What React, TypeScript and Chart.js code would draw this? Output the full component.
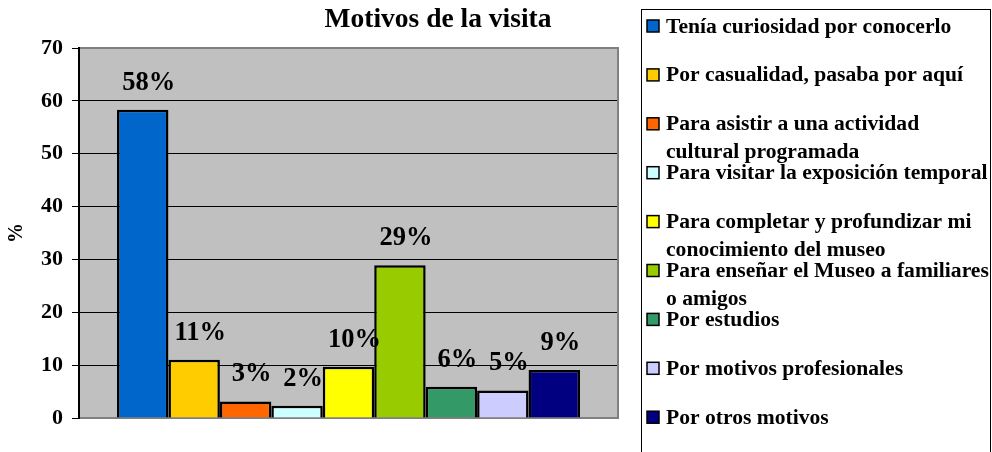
import React, { useEffect, useRef } from "react";
import { Chart, registerables } from "chart.js";

Chart.register(...registerables);

const chartTitle = "Motivos de la visita";
const yAxisTitle = "%";
const categories = [""];
const seriesNames = [
  "Tenía curiosidad por conocerlo",
  "Por casualidad, pasaba por aquí",
  "Para asistir a una actividad\ncultural programada",
  "Para visitar la exposición temporal",
  "Para completar y profundizar mi\nconocimiento del museo",
  "Para enseñar el Museo a familiares\no amigos",
  "Por estudios",
  "Por motivos profesionales",
  "Por otros motivos",
];
const seriesValues = [58.3, 11, 3.1, 2.3, 9.7, 28.9, 5.9, 5.2, 9.1];
const seriesLabels = ["58%", "11%", "3%", "2%", "10%", "29%", "6%", "5%", "9%"];
const seriesColors = [
  "#0066CC",
  "#FFCC00",
  "#FF6600",
  "#CCFFFF",
  "#FFFF00",
  "#99CC00",
  "#339966",
  "#CCCCFF",
  "#000080",
];
const yMin = 0;
const yMax = 70;
const yStep = 10;

const FONT = "'Liberation Serif', 'Times New Roman', serif";

const decorPlugin = {
  id: "decor",
  beforeDraw(chart: any) {
    const { ctx, chartArea: a } = chart;
    ctx.save();
    ctx.fillStyle = "#ffffff";
    ctx.fillRect(0, 0, chart.width, chart.height);
    ctx.fillStyle = "#C0C0C0";
    ctx.fillRect(a.left, a.top, a.right - a.left, a.bottom - a.top);
    ctx.restore();
  },
  beforeDatasetsDraw(chart: any) {
    const { ctx, chartArea: a } = chart;
    ctx.save();
    ctx.strokeStyle = "#808080";
    ctx.lineWidth = 2;
    ctx.beginPath();
    ctx.moveTo(a.left, a.top);
    ctx.lineTo(a.right, a.top);
    ctx.lineTo(a.right, a.bottom);
    ctx.lineTo(a.left, a.bottom);
    ctx.stroke();
    ctx.strokeStyle = "#000000";
    ctx.beginPath();
    ctx.moveTo(a.left, a.top - 1);
    ctx.lineTo(a.left, a.bottom + 1);
    ctx.stroke();
    ctx.restore();
  },
  afterDatasetsDraw(chart: any) {
    const { ctx } = chart;
    ctx.save();
    ctx.fillStyle = "#000000";
    ctx.font = `bold 26.5px ${FONT}`;
    ctx.textAlign = "center";
    ctx.textBaseline = "middle";
    chart.data.datasets.forEach((ds: any, i: number) => {
      const meta = chart.getDatasetMeta(i);
      meta.data.forEach((bar: any) => {
        ctx.fillText(seriesLabels[i], bar.x + 6, bar.y - 27);
      });
    });
    // title
    ctx.font = `bold 27.5px ${FONT}`;
    ctx.fillText(chartTitle, 438, 20);
    // legend
    const boxL = 641.5;
    const boxT = 9.5;
    ctx.strokeStyle = "#000000";
    ctx.lineWidth = 1;
    ctx.strokeRect(boxL, boxT, 990.5 - boxL, chart.height + 10 - boxT);
    ctx.font = `bold 21.6px ${FONT}`;
    ctx.textAlign = "left";
    seriesNames.forEach((name, i) => {
      const cy = 26 + i * 48.9;
      ctx.fillStyle = seriesColors[i];
      ctx.fillRect(647, cy - 6, 12, 12);
      ctx.strokeStyle = "#000000";
      ctx.lineWidth = 1.5;
      ctx.strokeRect(647, cy - 6, 12, 12);
      ctx.fillStyle = "#000000";
      name.split("\n").forEach((line, j) => {
        ctx.fillText(line, 666, cy + 1 + j * 28);
      });
    });
    ctx.restore();
  },
};

export default function App() {
  const ref = useRef<HTMLCanvasElement>(null);
  useEffect(() => {
    if (!ref.current) return;
    const chart = new Chart(ref.current, {
      type: "bar",
      data: {
        labels: categories,
        datasets: seriesNames.map((name, i) => ({
          label: name.replace("\n", " "),
          data: [seriesValues[i]],
          backgroundColor: seriesColors[i],
          borderColor: "#000000",
          borderWidth: 2.5,
        })),
      },
      plugins: [decorPlugin],
      options: {
        animation: false,
        responsive: false,
        devicePixelRatio: 1,
        layout: { padding: { left: 0, top: 48, right: 374, bottom: 34 } },
        plugins: {
          legend: { display: false },
          title: { display: false },
          tooltip: { enabled: false },
        },
        datasets: {
          bar: { categoryPercentage: 0.859, barPercentage: 1 },
        },
        scales: {
          x: { display: false },
          y: {
            min: yMin,
            max: yMax,
            afterFit(scale: any) {
              scale.width = 79;
            },
            ticks: {
              stepSize: yStep,
              color: "#000000",
              padding: 9,
              font: { family: FONT, size: 22, weight: "bold" },
            },
            grid: {
              color: "#000000",
              lineWidth: 1,
              tickLength: 7,
              drawTicks: true,
            },
            border: { display: true, color: "#000000", width: 2 },
            title: {
              display: true,
              text: yAxisTitle,
              color: "#000000",
              font: { family: FONT, size: 20, weight: "bold" },
              padding: { top: 5, bottom: 0 },
            },
          },
        },
      },
    });
    return () => chart.destroy();
  }, []);
  return (
    <div style={{ position: "absolute", left: 0, top: 0, width: 992, height: 452 }}>
      <canvas ref={ref} width={992} height={452} style={{ width: 992, height: 452 }} />
    </div>
  );
}
